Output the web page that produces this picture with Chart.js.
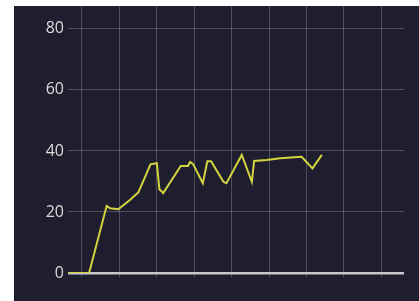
<!DOCTYPE html>
<html>
<head>
<meta charset="utf-8">
<script src="https://cdn.jsdelivr.net/npm/chart.js@4/dist/chart.umd.min.js"></script>
<style>
  html, body { margin: 0; padding: 0; background: #ffffff; }
  #wrap { position: absolute; left: 14px; top: 6px; width: 405px; height: 295px; background: #1e1e2e; }
</style>
</head>
<body>
<div id="wrap"><canvas id="chart" width="405" height="295"></canvas></div>
<script>
// x positions (days) and values
const xValues = [6.3, 11.9, 16.6, 17.5, 19.7, 22.8, 25.1, 28.3, 30.0, 30.7, 31.1, 31.7, 36.4, 38.3, 38.9, 39.7, 42.3, 43.5, 44.5, 47.8, 48.6, 52.7, 55.4, 56.0, 59.4, 62.9, 68.7, 71.6, 74.1];
const yValues = [0, 0, 22, 21.2, 20.9, 23.9, 26.5, 35.6, 36, 27.3, 27.0, 26.2, 35.1, 35.1, 36.4, 35.7, 29.4, 36.6, 36.6, 29.9, 29.4, 38.7, 29.9, 36.7, 37.0, 37.6, 38.1, 34.3, 38.7];
const yTicks = [0, 20, 40, 60, 80];
const xTicks = [10, 20, 30, 40, 50, 60, 70, 80, 90];

const points = xValues.map((x, i) => ({ x: x, y: yValues[i] }));

const ctx = document.getElementById('chart').getContext('2d');

const chart = new Chart(ctx, {
    type: 'line',
    data: {
        datasets: [{
            data: points,
            borderColor: '#d4d440',
            borderWidth: 2,
            pointRadius: 0,
            tension: 0,
            fill: false
        }]
    },
    options: {
        responsive: false,
        animation: false,
        layout: { padding: { top: 0, right: 15, left: 0, bottom: 0 } },
        plugins: { legend: { display: false }, tooltip: { enabled: false } },
        scales: {
            x: {
                type: 'linear',
                min: 6.26,
                max: 96.06,
                afterBuildTicks: (scale) => { scale.ticks = xTicks.map(v => ({ value: v })); },
                afterFit: (scale) => { scale.height = 28; scale.paddingLeft = 0; scale.paddingRight = 0; },
                ticks: { display: false },
                border: { display: false },
                grid: { color: 'rgba(255,255,255,0.22)', lineWidth: 1, drawTicks: true, tickLength: 4 }
            },
            y: {
                min: 0,
                max: 87.5,
                afterBuildTicks: (scale) => { scale.ticks = yTicks.map(v => ({ value: v })); },
                afterFit: (scale) => { scale.width = 54; scale.paddingTop = 0; scale.paddingBottom = 0; },
                border: { display: false },
                grid: {
                    drawTicks: false,
                    color: (c) => c.tick && c.tick.value === 0 ? '#c8c8cc' : 'rgba(255,255,255,0.22)',
                    lineWidth: (c) => c.tick && c.tick.value === 0 ? 2.5 : 1
                },
                ticks: {
                    color: '#dcdcdc',
                    padding: 4,
                    font: { family: 'Open Sans', size: 16 }
                }
            }
        }
    }
});
</script>
</body>
</html>
